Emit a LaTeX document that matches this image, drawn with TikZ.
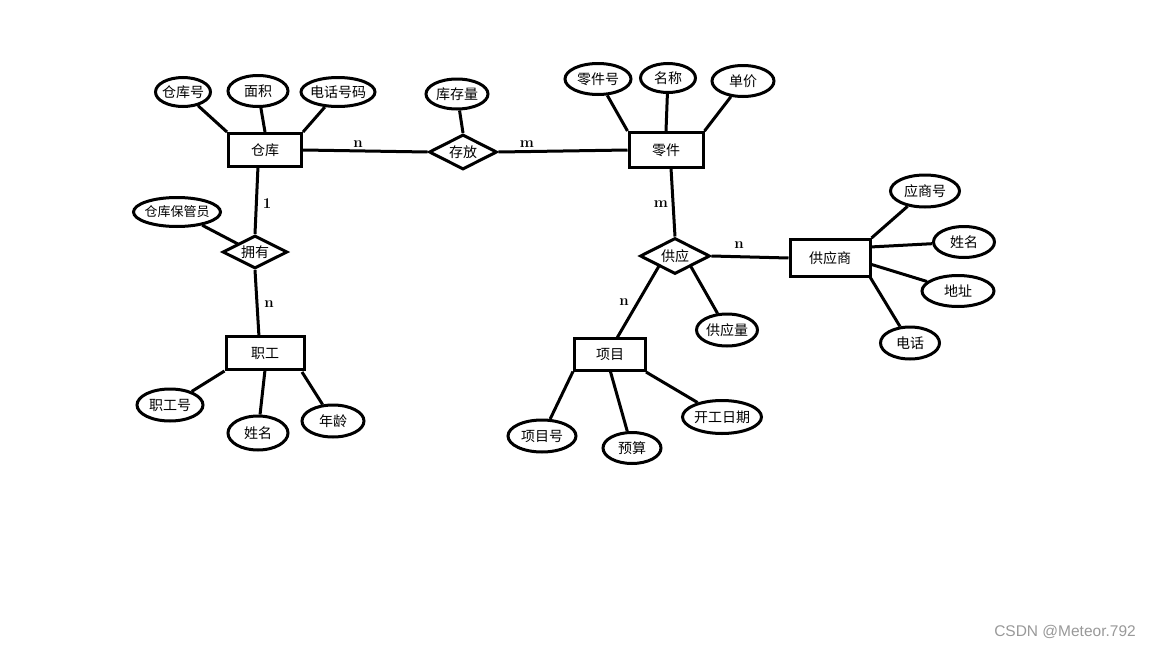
\documentclass[tikz,border=0pt]{standalone}
\usepackage{fontspec}
\newfontfamily\cjk{Noto Sans CJK SC}
\newfontfamily\wmfont{Liberation Sans}
\usetikzlibrary{shapes.geometric}
\newcommand\zw[1]{\makebox[0pt]{#1}}
\begin{document}
\begin{tikzpicture}[x=1pt,y=-1pt,
 every node/.style={font=\cjk\fontsize{14}{16}\selectfont},
 ent/.style={draw,line width=3pt,rectangle,inner sep=0pt},
 attr/.style={draw,line width=3pt,ellipse,inner sep=0pt},
 rel/.style={draw,line width=3pt,diamond,inner sep=0pt},
 conn/.style={line width=3pt},
 card/.style={font=\bfseries\fontsize{15}{17}\selectfont}
]
\useasboundingbox[fill=white] (0,0) rectangle (1152,648);
% entities
\node[ent,minimum width=73,minimum height=33] (ck) at (265,150) {仓库};
\node[ent,minimum width=74,minimum height=35] (lj) at (666,150) {零件};
\node[ent,minimum width=78,minimum height=33] (zg) at (265,353) {职工};
\node[ent,minimum width=71,minimum height=32] (xm) at (610,354) {项目};
\node[ent,minimum width=80,minimum height=37] (gys) at (830,258) {供应商};
% relationships
\node[rel,minimum width=68,minimum height=35] (cf) at (463,152) {\zw{存放}};
\node[rel,minimum width=65,minimum height=33] (yy) at (255,252) {\zw{拥有}};
\node[rel,minimum width=70,minimum height=36] (gy) at (675,256) {\zw{供应}};
% attributes
\node[attr,minimum width=55,minimum height=29] (ckh) at (183,92) {\zw{仓库号}};
\node[attr,minimum width=60,minimum height=31] (mj) at (258,91) {\zw{面积}};
\node[attr,minimum width=74,minimum height=29] (dhhm) at (338,92) {\zw{电话号码}};
\node[attr,minimum width=62,minimum height=30] (kcl) at (457,94) {\zw{库存量}};
\node[attr,minimum width=66,minimum height=31] (ljh) at (598,79) {\zw{零件号}};
\node[attr,minimum width=55,minimum height=29] (mc) at (668,78) {\zw{名称}};
\node[attr,minimum width=62,minimum height=31] (dj) at (743,81) {\zw{单价}};
\node[attr,minimum width=87,minimum height=29,font=\cjk\fontsize{13}{15}\selectfont] (ckbgy) at (177,212) {\zw{仓库保管员}};
\node[attr,minimum width=66,minimum height=32] (zgh) at (170,405) {\zw{职工号}};
\node[attr,minimum width=60,minimum height=34] (xm1) at (258,433) {\zw{姓名}};
\node[attr,minimum width=62,minimum height=32] (nl) at (333,421) {\zw{年龄}};
\node[attr,minimum width=61,minimum height=32] (gyl) at (727,330) {\zw{供应量}};
\node[attr,minimum width=68,minimum height=32] (xmh) at (542,436) {\zw{项目号}};
\node[attr,minimum width=58,minimum height=31] (ys) at (632,448) {\zw{预算}};
\node[attr,minimum width=79,minimum height=33] (kgrq) at (722,417) {\zw{开工日期}};
\node[attr,minimum width=69,minimum height=32] (ysh) at (925,191) {\zw{应商号}};
\node[attr,minimum width=61,minimum height=31] (xm2) at (964,242) {\zw{姓名}};
\node[attr,minimum width=72,minimum height=31] (dz) at (958,291) {\zw{地址}};
\node[attr,minimum width=59,minimum height=32] (dh) at (910,343) {\zw{电话}};
% helper coordinates
\coordinate (ckS) at (258,166);
\coordinate (zgN) at (259,337);
\coordinate (ljS) at (671,168);
\coordinate (xmN) at (617,338);
\coordinate (zgS) at (265,370);
\coordinate (zgSE) at (302,372);
\coordinate (xmS) at (610,370);
\coordinate (xmSE) at (646,372);
\coordinate (gysE1) at (870,247);
\coordinate (gysE2) at (870,264);
\coordinate (gysSE) at (870,277);
\coordinate (gyL) at (659,266);
\coordinate (gyR) at (690,265);
\coordinate (yyNW) at (238,244);
% connectors
\draw[conn] (ck.east) -- (cf.west);
\draw[conn] (cf.east) -- (lj.west);
\draw[conn] (ckS) -- (yy.north);
\draw[conn] (yy.south) -- (zgN);
\draw[conn] (ckbgy) -- (yyNW);
\draw[conn] (ljS) -- (gy.north);
\draw[conn] (gy.east) -- (gys.west);
\draw[conn] (gyL) -- (xmN);
\draw[conn] (gyR) -- (gyl);
\draw[conn] (kcl) -- (cf.north);
\draw[conn] (ckh) -- (ck.north west);
\draw[conn] (mj) -- (ck.north);
\draw[conn] (dhhm) -- (ck.north east);
\draw[conn] (ljh) -- (lj.north west);
\draw[conn] (mc) -- (lj.north);
\draw[conn] (dj) -- (lj.north east);
\draw[conn] (zg.south west) -- (zgh);
\draw[conn] (zgS) -- (xm1);
\draw[conn] (zgSE) -- (nl);
\draw[conn] (xm.south west) -- (xmh);
\draw[conn] (xmS) -- (ys);
\draw[conn] (xmSE) -- (kgrq);
\draw[conn] (gys.north east) -- (ysh);
\draw[conn] (gysE1) -- (xm2);
\draw[conn] (gysE2) -- (dz);
\draw[conn] (gysSE) -- (dh);
% cardinalities
\node[card] (c1) at (358,144) {n};
\node[card] (c2) at (527,144) {m};
\node[card] (c3) at (267,204) {1};
\node[card] (c4) at (269,304) {n};
\node[card] (c5) at (661,204) {m};
\node[card] (c6) at (739,245) {n};
\node[card] (c7) at (624,302) {n};
% watermark
\node[font=\wmfont\fontsize{15.5}{17}\selectfont,text=black!40] (wm) at (1065,632) {CSDN @Meteor.792};
\end{tikzpicture}
\end{document}
